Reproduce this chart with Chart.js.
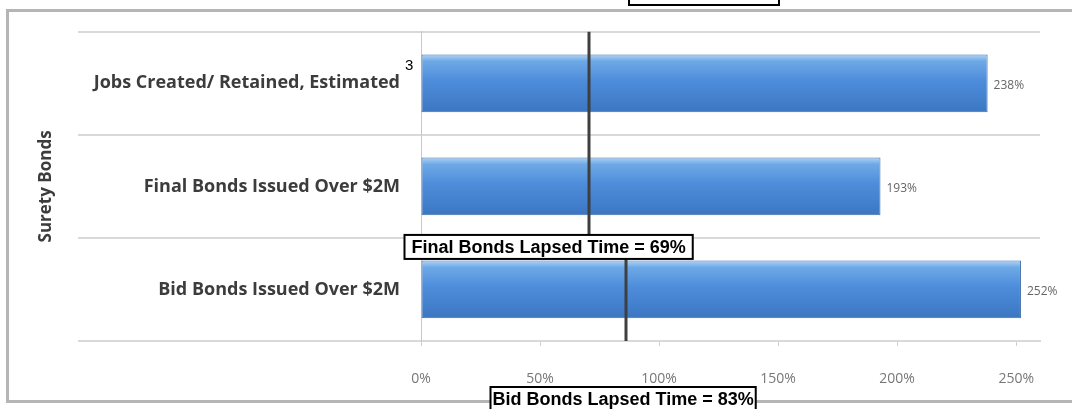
<!DOCTYPE html>
<html>
<head>
<meta charset="utf-8">
<script src="https://cdn.jsdelivr.net/npm/chart.js@4.4.1/dist/chart.umd.min.js"></script>
<style>
  html, body { margin: 0; padding: 0; background: #fff; }
  #wrap { width: 1072px; height: 409px; position: relative; }
</style>
</head>
<body>
<div id="wrap"><canvas id="bondChart" width="1072" height="409"></canvas></div>
<script>
// data
const categories = ['Jobs Created/ Retained, Estimated', 'Final Bonds Issued Over $2M', 'Bid Bonds Issued Over $2M'];
const percentValues = [238, 193, 252];
const xTicks = [0, 50, 100, 150, 200, 250];
// lapsed time lines: where drawn, and what the box says
const lapsedLabels = ['Final Bonds Lapsed Time = 69%', 'Bid Bonds Lapsed Time = 83%'];
const lapsedPositions = [70.5, 86];

function barGradient(context) {
    const chart = context.chart;
    if (!chart.chartArea) return '#4f8fdc';
    const y = chart.scales.y.getPixelForValue(context.dataIndex);
    const g = chart.ctx.createLinearGradient(0, y - 29, 0, y + 29);
    g.addColorStop(0, '#b0d4f7');
    g.addColorStop(0.12, '#6ea9e6');
    g.addColorStop(0.45, '#4e8ddb');
    g.addColorStop(1, '#3b76c2');
    return g;
}

// frame, extended gridlines, lapsed lines and boxes
const extrasPlugin = {
    id: 'extras',
    beforeDraw(chart) {
        const c = chart.ctx;
        c.save();
        c.fillStyle = '#fff';
        c.fillRect(0, 0, chart.width, chart.height);
        c.strokeStyle = '#b5b5b5';
        c.lineWidth = 3;
        c.beginPath();
        c.moveTo(1080, 10.5);
        c.lineTo(7.5, 10.5);
        c.lineTo(7.5, 401.5);
        c.lineTo(1080, 401.5);
        c.stroke();
        // category separators run across the label area too
        const ys = chart.scales.y;
        const half = (ys.getPixelForValue(1) - ys.getPixelForValue(0)) / 2;
        c.strokeStyle = '#d9d9d9';
        c.lineWidth = 2;
        for (let i = 0; i <= categories.length; i++) {
            const y = Math.round(ys.getPixelForValue(i) - half);
            c.beginPath();
            c.moveTo(78, y);
            c.lineTo(chart.chartArea.left, y);
            c.stroke();
        }
        c.restore();
    },
    afterDraw(chart) {
        const c = chart.ctx;
        const xs = chart.scales.x;
        const ys = chart.scales.y;
        const area = chart.chartArea;
        const half = (ys.getPixelForValue(1) - ys.getPixelForValue(0)) / 2;
        const sep = ys.getPixelForValue(2) - half;
        c.save();
        // vertical lapsed-time lines
        c.strokeStyle = '#3f3f3f';
        c.lineWidth = 3;
        const x1 = Math.round(xs.getPixelForValue(lapsedPositions[0]));
        c.beginPath(); c.moveTo(x1, area.top); c.lineTo(x1, sep - 3); c.stroke();
        const x2 = Math.round(xs.getPixelForValue(lapsedPositions[1]));
        c.beginPath(); c.moveTo(x2, sep + 20); c.lineTo(x2, area.bottom); c.stroke();

        // superscript on first category
        c.fillStyle = '#000';
        c.font = '15px "Liberation Sans", Arial, sans-serif';
        c.textAlign = 'left';
        c.textBaseline = 'middle';
        c.fillText('3', ys.right - 16, ys.getPixelForValue(0) - 17);

        // label boxes
        c.font = 'bold 18px "Liberation Sans", Arial, sans-serif';
        const drawBox = (text, cx, top, pad) => {
            const w = c.measureText(text).width + pad;
            const left = Math.round(cx - w / 2) + 0.5;
            c.fillStyle = '#fff';
            c.fillRect(left, top, w, 24);
            c.strokeStyle = '#000';
            c.lineWidth = 2;
            c.strokeRect(left, top, w, 24);
            c.fillStyle = '#000';
            c.textAlign = 'center';
            c.fillText(text, left + w / 2, top + 13);
        };
        drawBox(lapsedLabels[0], x1 - 41, sep - 3, 14);
        drawBox(lapsedLabels[1], x2 - 3, 387, 4);
        // cut-off box at the very top
        c.strokeStyle = '#000';
        c.lineWidth = 2;
        c.strokeRect(629, -20, 150, 25);
        c.restore();
    }
};

// value labels next to each bar
const valueLabels = {
    id: 'valueLabels',
    afterDatasetsDraw(chart) {
        const c = chart.ctx;
        const meta = chart.getDatasetMeta(0);
        c.save();
        c.font = '12px "Open Sans", sans-serif';
        c.fillStyle = '#666';
        c.textAlign = 'left';
        c.textBaseline = 'middle';
        meta.data.forEach((bar, i) => {
            c.fillText(percentValues[i] + '%', bar.x + 6, bar.y + 2);
        });
        c.restore();
    }
};

const ctx = document.getElementById('bondChart').getContext('2d');
const bondChart = new Chart(ctx, {
    type: 'bar',
    data: {
        labels: categories,
        datasets: [{
            data: percentValues,
            backgroundColor: barGradient,
            borderColor: '#3d6ca6',
            borderWidth: 1,
            borderSkipped: false,
            categoryPercentage: 1,
            barPercentage: 0.56
        }]
    },
    options: {
        indexAxis: 'y',
        responsive: false,
        animation: false,
        layout: { padding: { top: 30, right: 32, left: 0, bottom: 0 } },
        plugins: {
            legend: { display: false },
            tooltip: { enabled: false }
        },
        scales: {
            x: {
                min: 0,
                max: 260,
                afterBuildTicks: (scale) => {
                    scale.ticks = xTicks.map(v => ({ value: v }));
                },
                afterFit: (scale) => { scale.height = 68; },
                grid: {
                    drawOnChartArea: false,
                    drawTicks: true,
                    tickLength: 5,
                    color: '#cfcfcf'
                },
                border: { display: true, color: '#d9d9d9', width: 2 },
                ticks: {
                    padding: 25,
                    color: '#777',
                    font: { family: '"Open Sans", sans-serif', size: 14 },
                    callback: (v) => v + '%'
                }
            },
            y: {
                afterFit: (scale) => { scale.width = 421; },
                grid: {
                    offset: true,
                    drawTicks: false,
                    color: '#d9d9d9',
                    lineWidth: 2
                },
                border: { display: true, color: '#c8c8c8', width: 1 },
                ticks: {
                    padding: 21,
                    color: '#3c3c3c',
                    font: { family: '"Open Sans", sans-serif', size: 18, weight: 'bold' }
                },
                title: {
                    display: true,
                    text: 'Surety Bonds',
                    color: '#3c3c3c',
                    font: { family: '"Open Sans", sans-serif', size: 17, weight: 'bold' },
                    padding: { top: 36, bottom: 0 }
                }
            }
        }
    },
    plugins: [extrasPlugin, valueLabels]
});
</script>
</body>
</html>
